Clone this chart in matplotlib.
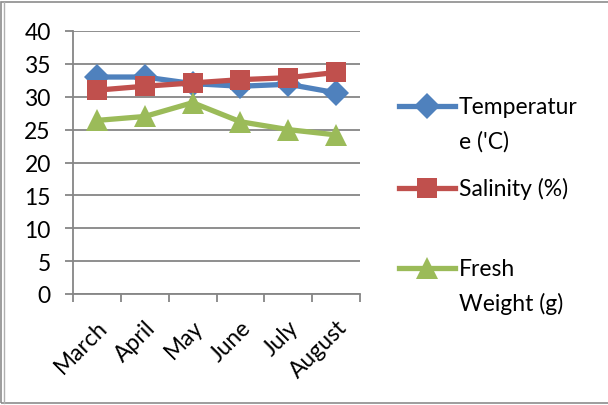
# Monthly water readings - line chart
import matplotlib.pyplot as plt
from matplotlib.lines import Line2D
from matplotlib.patches import Rectangle

plt.rcParams['font.family'] = ['Lato', 'DejaVu Sans']

# Data
months = ['March', 'April', 'May', 'June', 'July', 'August']
temperature = [33.0, 33.0, 32.0, 31.6, 31.9, 30.6]
salinity = [31.0, 31.6, 32.1, 32.6, 32.9, 33.7]
fresh_weight = [26.4, 27.0, 29.1, 26.2, 25.0, 24.2]

series_labels = [["Temperatur", "e ('C)"], ["Salinity (%)"], ["Fresh", "Weight (g)"]]
colors = ['#4F81BD', '#C0504D', '#9BBB59']
markers = ['D', 's', '^']
msizes = [13, 15, 16]
fs = 16.5

fig = plt.figure(figsize=(6.08, 4.06), dpi=100)
ax = fig.add_axes([73 / 608, 1 - 295 / 406, 287 / 608, 263 / 406])

x = [i + 0.5 for i in range(len(months))]
for vals, c, m, ms in zip([temperature, salinity, fresh_weight], colors, markers, msizes):
    ax.plot(x, vals, color=c, lw=3.8, marker=m, markersize=ms, markeredgewidth=0, zorder=3)

# Axes styling (Excel look)
ax.set_xlim(0, len(months))
ax.set_ylim(0, 40)
ax.set_yticks(range(0, 41, 5))
ax.yaxis.grid(True, color='#868686', lw=1.3)
ax.set_axisbelow(True)
for s in ['top', 'right']:
    ax.spines[s].set_visible(False)
for s in ['left', 'bottom']:
    ax.spines[s].set_color('#868686')
    ax.spines[s].set_linewidth(1.3)
ax.tick_params(axis='y', length=6, width=1.3, color='#868686', labelsize=fs, pad=10)
ax.set_xticks(range(len(months) + 1))
ax.set_xticklabels([])
ax.tick_params(axis='x', which='major', length=6, width=1.3, color='#868686')
ax.set_xticks(x, minor=True)
ax.set_xticklabels(months, minor=True, rotation=45, ha='right', va='top',
                   rotation_mode='anchor', fontsize=fs)
ax.tick_params(axis='x', which='minor', length=0, pad=16)

# Legend drawn by hand so the marker sits at the first text line
legend_y = [107, 189, 269]
line_gap = 35
for labels, c, m, ms, ly in zip(series_labels, colors, markers, msizes, legend_y):
    yf = 1 - ly / 406
    fig.add_artist(Line2D([399 / 608, 455 / 608], [yf, yf], color=c, lw=3.8,
                          transform=fig.transFigure))
    fig.add_artist(Line2D([427 / 608], [yf], color=c, marker=m, markersize=ms,
                          markeredgewidth=0, transform=fig.transFigure))
    for k, t in enumerate(labels):
        fig.text(459 / 608, 1 - (ly + k * line_gap) / 406, t, fontsize=fs,
                 va='center', ha='left')

# Outer chart frame
fig.add_artist(Rectangle((1 / 608, 2 / 406), 620 / 608, 401 / 406, fill=False,
                         edgecolor='#8c8c8c', lw=1.2, transform=fig.transFigure))
fig.add_artist(Line2D([4 / 608, 4 / 608], [2 / 406, 403 / 406], color='#b0b0b0',
                      lw=1.0, transform=fig.transFigure))

fig.savefig('out.png', dpi=100)
